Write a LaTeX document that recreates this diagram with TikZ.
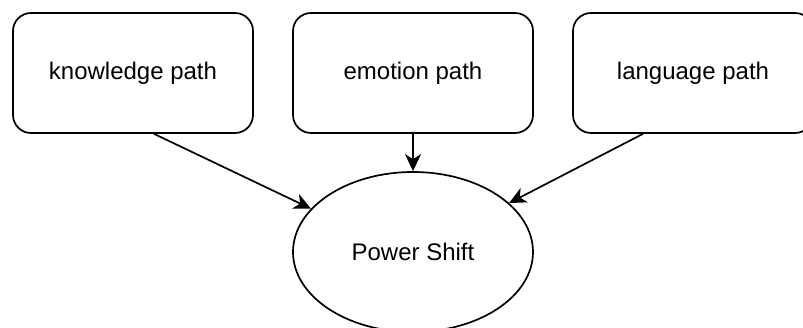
\documentclass[tikz,border=0pt]{standalone}
\usepackage{fontspec}
\setmainfont{Liberation Sans}
\usetikzlibrary{shapes.geometric,arrows.meta,calc}
\begin{document}
\begin{tikzpicture}[x=1pt,y=-1pt,
  pathbox/.style={draw=black,line width=1.7pt,rounded corners=18pt,minimum width=240pt,minimum height=120pt,inner sep=0pt,font=\fontsize{24}{28}\selectfont},
  target/.style={draw=black,line width=1.7pt,ellipse,minimum width=240pt,minimum height=160pt,inner sep=0pt,font=\fontsize{24}{28}\selectfont},
  conn/.style={line width=1.7pt,-{Stealth[length=17pt,width=16pt,inset=5pt]}}]
\useasboundingbox (0,0) rectangle (803,328);
\node[pathbox] (k) at (133,73) {knowledge path};
\node[pathbox] (e) at (413,73) {emotion path};
\node[pathbox] (l) at (693,73) {language path};
\node[target] (p) at (413,252) {Power Shift};
\draw[conn] ($(k.south)+(21,0)$) -- (p.157);
\draw[conn] (e.south) -- (p.north);
\draw[conn] ($(l.south)+(-50,0)$) -- (p.27);
\end{tikzpicture}
\end{document}
